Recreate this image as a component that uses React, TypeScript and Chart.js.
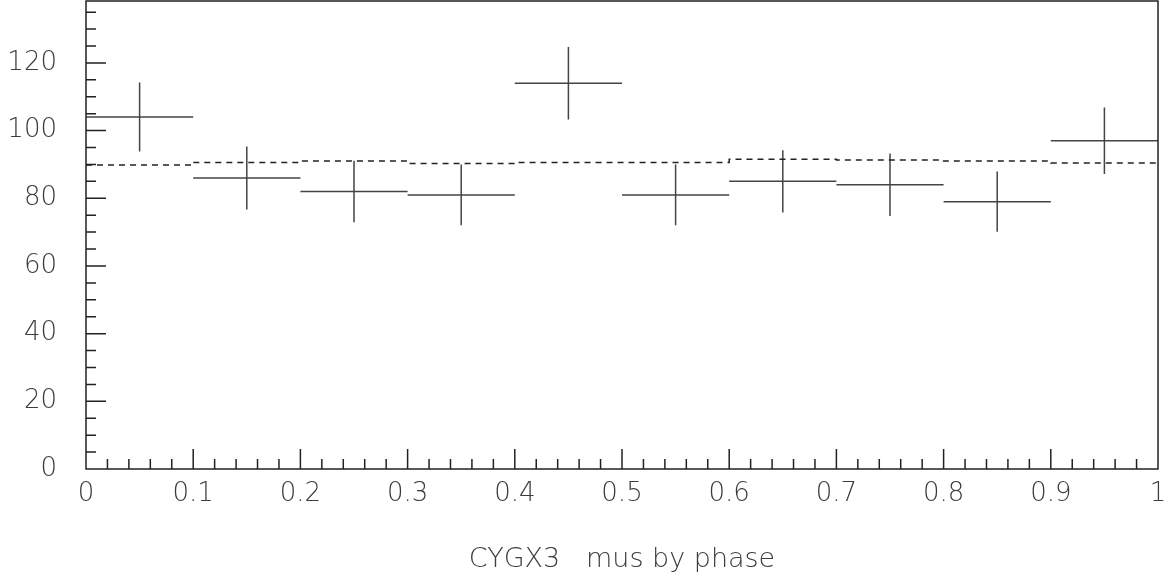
import React, { useEffect, useRef } from 'react';
import { Chart, registerables } from 'chart.js';

Chart.register(...registerables);

// ---- data ----
const binEdges = [0, 0.1, 0.2, 0.3, 0.4, 0.5, 0.6, 0.7, 0.8, 0.9, 1.0];
const binCenters = [0.05, 0.15, 0.25, 0.35, 0.45, 0.55, 0.65, 0.75, 0.85, 0.95];
const counts = [104, 86, 82, 81, 114, 81, 85, 84, 79, 97];
const errors = [10.2, 9.3, 9.1, 9.0, 10.7, 9.0, 9.2, 9.2, 8.9, 9.8];
const reference = [89.8, 90.6, 91.0, 90.3, 90.6, 90.6, 91.5, 91.3, 91.0, 90.4];
const xTickLabels = ['0', '0.1', '0.2', '0.3', '0.4', '0.5', '0.6', '0.7', '0.8', '0.9', '1'];
const yTickLabels = ['0', '20', '40', '60', '80', '100', '120'];
const chartTitle = 'CYGX3   mus by phase';

const FONT = "'DejaVu Sans', sans-serif";
const INK = '#3c3c3c';

const hbookFrame = {
  id: 'hbookFrame',
  afterDatasetsDraw(chart: any) {
    const { ctx, chartArea, scales } = chart;
    const xs = scales.x;
    const ys = scales.y;
    const { left, right, top, bottom } = chartArea;
    ctx.save();
    ctx.strokeStyle = '#222';
    ctx.lineWidth = 1.5;
    ctx.beginPath();
    for (let i = 1; i < 50; i++) {
      const px = xs.getPixelForValue(i * 0.02);
      const len = i % 5 === 0 ? 20 : 10;
      ctx.moveTo(px, bottom);
      ctx.lineTo(px, bottom - len);
    }
    for (let v = 5; v <= ys.max; v += 5) {
      const py = ys.getPixelForValue(v);
      const len = v % 20 === 0 ? 20 : 10;
      ctx.moveTo(left, py);
      ctx.lineTo(left + len, py);
    }
    ctx.stroke();
    ctx.strokeRect(left, top, right - left, bottom - top);
    ctx.restore();
  },
};

export default function App() {
  const canvasRef = useRef<HTMLCanvasElement | null>(null);

  useEffect(() => {
    document.body.style.margin = '0';
    const canvas = canvasRef.current;
    if (!canvas) return;

    const hBars: any[] = [];
    const vBars: any[] = [];
    for (let i = 0; i < counts.length; i++) {
      hBars.push({ x: binEdges[i], y: counts[i] });
      hBars.push({ x: binEdges[i + 1], y: counts[i] });
      hBars.push({ x: binEdges[i + 1], y: null });
      vBars.push({ x: binCenters[i], y: counts[i] - errors[i] });
      vBars.push({ x: binCenters[i], y: counts[i] + errors[i] });
      vBars.push({ x: binCenters[i], y: null });
    }
    const refLine: any[] = reference.map((v, i) => ({ x: binEdges[i], y: v }));
    refLine.push({ x: binEdges[binEdges.length - 1], y: reference[reference.length - 1] });

    const chart = new Chart(canvas, {
      type: 'line',
      data: {
        datasets: [
          {
            label: 'reference',
            data: refLine,
            borderColor: '#222',
            borderWidth: 1.5,
            borderDash: [6, 5],
            stepped: 'before',
            pointRadius: 0,
            fill: false,
          },
          {
            label: 'bins',
            data: hBars,
            borderColor: '#444',
            borderWidth: 1.5,
            pointRadius: 0,
            spanGaps: false,
            fill: false,
          },
          {
            label: 'errors',
            data: vBars,
            borderColor: '#444',
            borderWidth: 1.5,
            pointRadius: 0,
            spanGaps: false,
            fill: false,
          },
        ],
      } as any,
      options: {
        animation: false,
        responsive: false,
        maintainAspectRatio: false,
        layout: { padding: { top: 1, right: 13, left: 0, bottom: 0 } },
        plugins: {
          legend: { display: false },
          tooltip: { enabled: false },
          title: {
            display: true,
            fullSize: false,
            text: chartTitle,
            position: 'bottom',
            color: INK,
            font: { family: FONT, size: 27, weight: '200' as any, lineHeight: 1.2 },
            padding: { top: 0, bottom: 5 },
          },
        },
        scales: {
          x: {
            type: 'linear',
            min: 0,
            max: 1,
            grid: { display: false, drawTicks: false },
            border: { display: false },
            afterFit: (s: any) => {
              s.height = 581 - 469 - (27 * 1.2 + 5);
              s.paddingLeft = 0;
              s.paddingRight = 0;
              s.paddingTop = 0;
              s.paddingBottom = 0;
            },
            ticks: {
              stepSize: 0.1,
              padding: 10,
              maxRotation: 0,
              autoSkip: false,
              color: INK,
              font: { family: FONT, size: 26, weight: '200' as any },
              callback: (v: any) => xTickLabels[Math.round(Number(v) * 10)] ?? '',
            },
          },
          y: {
            type: 'linear',
            min: 0,
            max: 138.3,
            grid: { display: false, drawTicks: false },
            border: { display: false },
            afterFit: (s: any) => {
              s.width = 86;
              s.paddingLeft = 0;
              s.paddingRight = 0;
              s.paddingTop = 0;
              s.paddingBottom = 0;
            },
            ticks: {
              stepSize: 20,
              includeBounds: false,
              padding: 29,
              autoSkip: false,
              color: INK,
              font: { family: FONT, size: 26, weight: '200' as any },
              callback: (v: any) => yTickLabels[Math.round(Number(v) / 20)] ?? '',
            },
          },
        },
      } as any,
      plugins: [hbookFrame],
    });
    return () => chart.destroy();
  }, []);

  return (
    <div style={{ width: 1171, height: 581, position: 'relative', background: '#fff' }}>
      <canvas ref={canvasRef} width={1171} height={581} style={{ display: 'block' }} />
    </div>
  );
}
